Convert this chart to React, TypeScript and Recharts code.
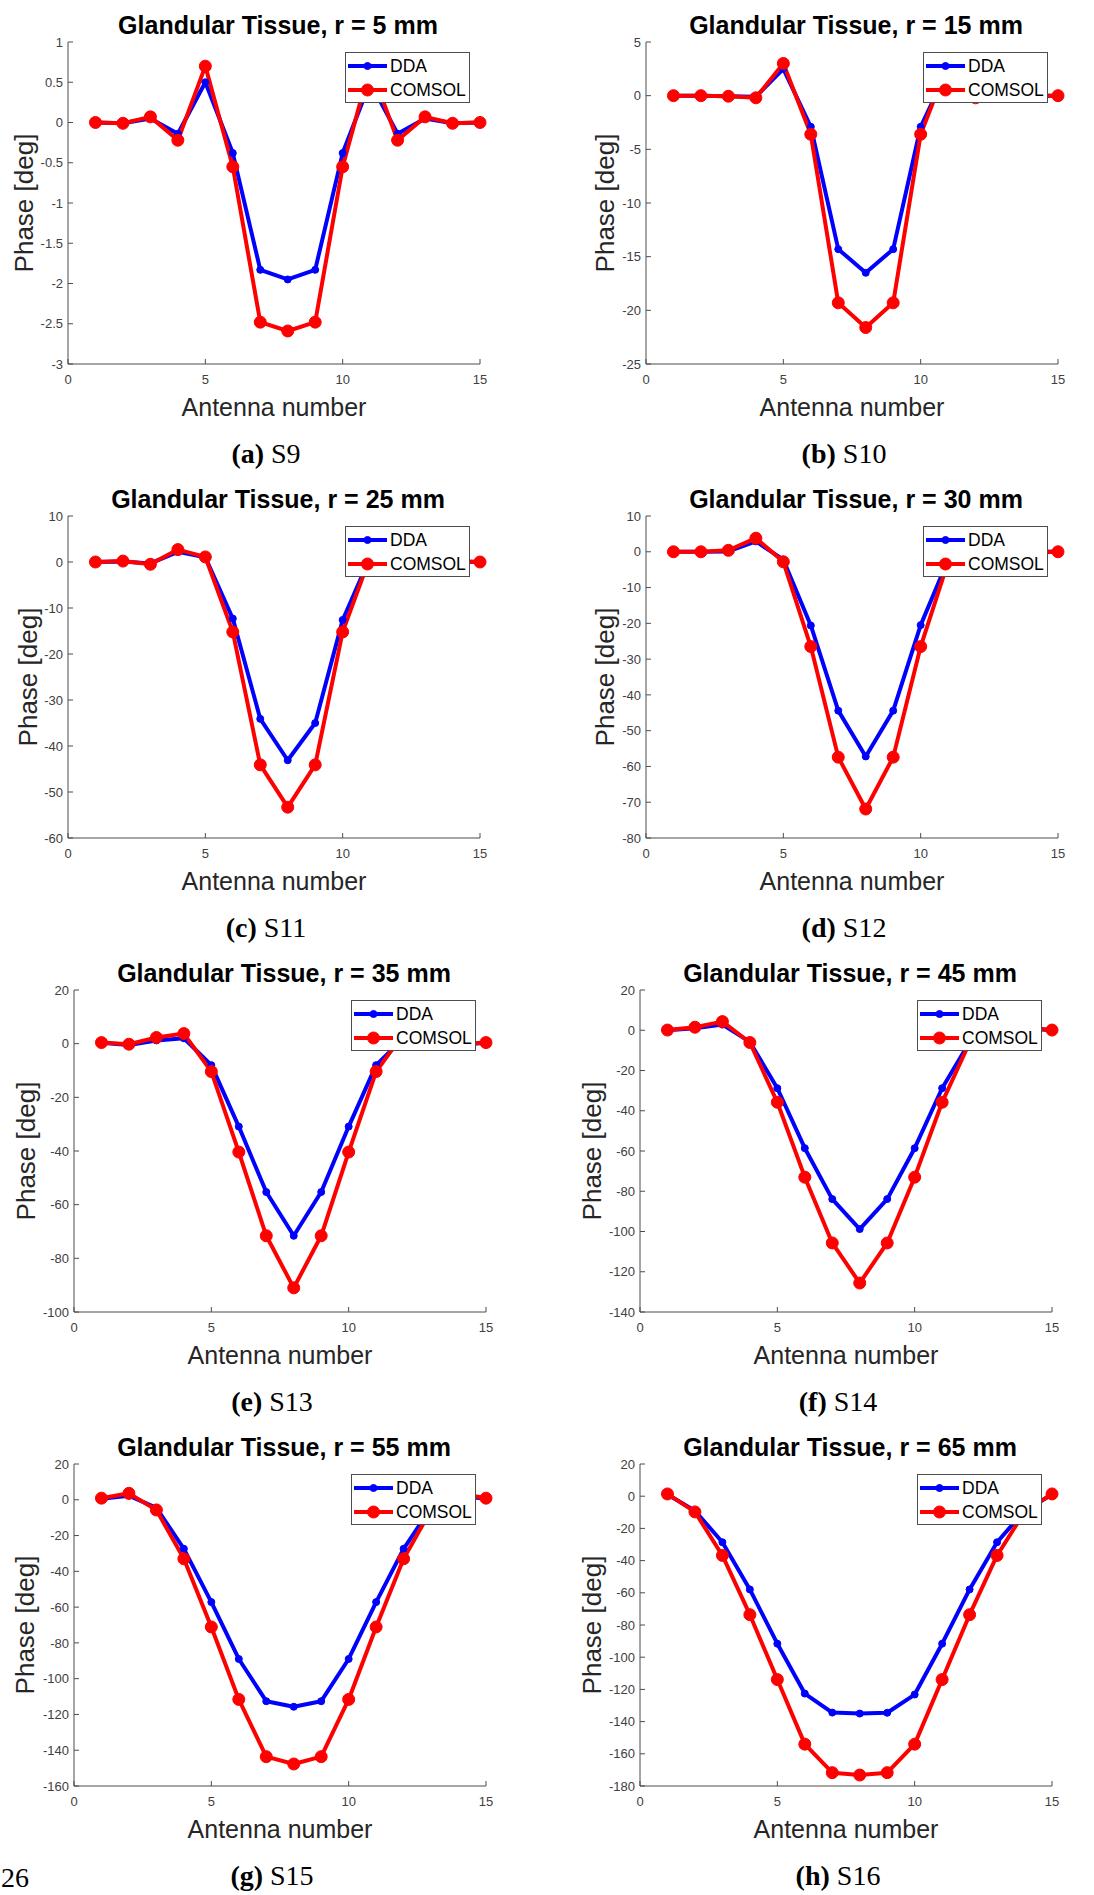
import React from 'react';
import { LineChart, Line, XAxis, YAxis, Legend } from 'recharts';

const antenna = [1, 2, 3, 4, 5, 6, 7, 8, 9, 10, 11, 12, 13, 14, 15];
const xTicks = [0, 5, 10, 15];
const seriesOrder = ['DDA', 'COMSOL'];

// (a) S9, r = 5 mm
const ddaS9 = [0, -0.01, 0.05, -0.14, 0.5, -0.38, -1.83, -1.95, -1.83, -0.38, 0.5, -0.14, 0.05, -0.01, 0];
const comsolS9 = [0, -0.01, 0.07, -0.22, 0.7, -0.55, -2.48, -2.59, -2.48, -0.55, 0.7, -0.22, 0.07, -0.01, 0];
const yTicksS9 = [-3, -2.5, -2, -1.5, -1, -0.5, 0, 0.5, 1];

// (b) S10, r = 15 mm
const ddaS10 = [0, 0, -0.05, -0.1, 2.5, -2.9, -14.3, -16.5, -14.3, -2.9, 2.5, -0.1, -0.05, 0, 0];
const comsolS10 = [0, 0, -0.05, -0.2, 3.0, -3.6, -19.3, -21.6, -19.3, -3.6, 3.0, -0.2, -0.05, 0, 0];
const yTicksS10 = [-25, -20, -15, -10, -5, 0, 5];

// (c) S11, r = 25 mm
const ddaS11 = [0, 0.1, -0.3, 2.2, 1.0, -12.3, -34.1, -43.1, -35.0, -12.6, 1.0, 2.2, -0.3, 0.1, 0];
const comsolS11 = [0, 0.2, -0.5, 2.7, 1.1, -15.2, -44.1, -53.3, -44.1, -15.2, 1.1, 2.7, -0.5, 0.2, 0];
const yTicksS11 = [-60, -50, -40, -30, -20, -10, 0, 10];

// (d) S12, r = 30 mm
const ddaS12 = [0, 0, 0.1, 2.9, -2.2, -20.6, -44.4, -57.2, -44.4, -20.5, -2.2, 2.9, 0.1, 0, 0];
const comsolS12 = [0, 0, 0.4, 3.8, -2.8, -26.5, -57.4, -71.9, -57.4, -26.5, -2.8, 3.8, 0.4, 0, 0];
const yTicksS12 = [-80, -70, -60, -50, -40, -30, -20, -10, 0, 10];

// (e) S13, r = 35 mm
const ddaS13 = [0.3, -0.5, 1.2, 2.0, -8.0, -30.9, -55.3, -71.6, -55.3, -30.9, -8.0, 2.0, 1.2, -0.5, 0.3];
const comsolS13 = [0.4, -0.2, 2.3, 3.75, -10.4, -40.4, -71.6, -91.0, -71.6, -40.4, -10.4, 3.75, 2.3, -0.2, 0.4];
const yTicksS13 = [-100, -80, -60, -40, -20, 0, 20];

// (f) S14, r = 45 mm
const ddaS14 = [0, 1.0, 2.8, -5.8, -28.8, -58.6, -83.9, -98.8, -83.9, -58.6, -28.8, -5.8, 2.8, 1.0, 0];
const comsolS14 = [0.1, 1.5, 4.3, -6.1, -35.8, -73.0, -105.7, -125.6, -105.7, -73.0, -35.8, -6.1, 4.3, 1.5, 0.1];
const yTicksS14 = [-140, -120, -100, -80, -60, -40, -20, 0, 20];

// (g) S15, r = 55 mm
const ddaS15 = [0.5, 2.3, -4.5, -27.4, -57.2, -89.0, -112.6, -115.7, -112.6, -89.0, -57.2, -27.4, -4.5, 2.3, 0.5];
const comsolS15 = [0.9, 3.6, -5.7, -33.0, -71.1, -111.6, -143.6, -147.7, -143.6, -111.6, -71.1, -33.0, -5.7, 3.6, 0.9];
const yTicksS15 = [-160, -140, -120, -100, -80, -60, -40, -20, 0, 20];

// (h) S16, r = 65 mm
const ddaS16 = [1.0, -9.0, -28.6, -57.9, -91.6, -122.6, -134.4, -135.0, -134.5, -123.2, -91.6, -57.9, -28.6, -9.0, 1.0];
const comsolS16 = [1.4, -9.75, -36.8, -73.6, -113.9, -154.0, -171.7, -173.2, -171.7, -154.0, -113.9, -73.6, -36.8, -9.75, 1.4];
const yTicksS16 = [-180, -160, -140, -120, -100, -80, -60, -40, -20, 0, 20];

const SANS = '"Liberation Sans", Arial, Helvetica, sans-serif';
const SERIF = '"Liberation Serif", "Times New Roman", serif';
const BLUE = '#0000ff';
const RED = '#ff0000';
const FRAME = '#4d4d4d';
const TICK = '#404040';

const PANEL_W = 547;
const PANEL_H = 474;
const PLOT_TOP = 42;
const PLOT_W = 412;
const PLOT_H = 322;
const Y_AXIS_W = 60;
const X_AXIS_H = 30;

interface PanelSpec {
  letter: string;
  sheet: string;
  radius: number;
  dda: number[];
  comsol: number[];
  yTicks: number[];
  col: number;
  row: number;
  plotLeft: number;
  yLabelX: number;
}

const panels: PanelSpec[] = [
  { letter: 'a', sheet: 'S9', radius: 5, dda: ddaS9, comsol: comsolS9, yTicks: yTicksS9, col: 0, row: 0, plotLeft: 68, yLabelX: 24 },
  { letter: 'b', sheet: 'S10', radius: 15, dda: ddaS10, comsol: comsolS10, yTicks: yTicksS10, col: 1, row: 0, plotLeft: 99, yLabelX: 58 },
  { letter: 'c', sheet: 'S11', radius: 25, dda: ddaS11, comsol: comsolS11, yTicks: yTicksS11, col: 0, row: 1, plotLeft: 68, yLabelX: 28 },
  { letter: 'd', sheet: 'S12', radius: 30, dda: ddaS12, comsol: comsolS12, yTicks: yTicksS12, col: 1, row: 1, plotLeft: 99, yLabelX: 58 },
  { letter: 'e', sheet: 'S13', radius: 35, dda: ddaS13, comsol: comsolS13, yTicks: yTicksS13, col: 0, row: 2, plotLeft: 74, yLabelX: 26 },
  { letter: 'f', sheet: 'S14', radius: 45, dda: ddaS14, comsol: comsolS14, yTicks: yTicksS14, col: 1, row: 2, plotLeft: 93, yLabelX: 45 },
  { letter: 'g', sheet: 'S15', radius: 55, dda: ddaS15, comsol: comsolS15, yTicks: yTicksS15, col: 0, row: 3, plotLeft: 74, yLabelX: 25 },
  { letter: 'h', sheet: 'S16', radius: 65, dda: ddaS16, comsol: comsolS16, yTicks: yTicksS16, col: 1, row: 3, plotLeft: 93, yLabelX: 45 },
];

const markerRadius: Record<string, number> = { DDA: 3.5, COMSOL: 6 };

// MATLAB-style legend box, drawn over the lines with a white background
const LegendBox = ({ payload }: any) => {
  const items = [...(payload || [])].sort(
    (p: any, q: any) => seriesOrder.indexOf(p.value) - seriesOrder.indexOf(q.value)
  );
  return (
    <div
      style={{
        position: 'relative',
        width: 125,
        height: 51,
        boxSizing: 'border-box',
        border: `1px solid ${FRAME}`,
        background: '#fff',
      }}
    >
      {items.map((entry: any, i: number) => (
        <div
          key={entry.value}
          style={{ position: 'absolute', left: 1, top: 2 + i * 24, height: 22, display: 'flex', alignItems: 'center' }}
        >
          <svg width={41} height={22}>
            <line x1={1} y1={11} x2={40} y2={11} stroke={entry.color} strokeWidth={4} />
            <circle cx={20.5} cy={11} r={markerRadius[entry.value] || 4} fill={entry.color} stroke={entry.color} />
          </svg>
          <span style={{ marginLeft: 2, fontSize: 17.5, fontFamily: SANS, color: '#000', lineHeight: '22px' }}>
            {entry.value}
          </span>
        </div>
      ))}
    </div>
  );
};

const centered: React.CSSProperties = {
  position: 'absolute',
  transform: 'translate(-50%, -50%)',
  whiteSpace: 'nowrap',
};

const Panel = ({ spec }: { spec: PanelSpec }) => {
  const data = antenna.map((a, i) => ({ antenna: a, DDA: spec.dda[i], COMSOL: spec.comsol[i] }));
  const yDomain = [spec.yTicks[0], spec.yTicks[spec.yTicks.length - 1]];
  const plotRight = spec.plotLeft + PLOT_W;
  const cx = spec.plotLeft + PLOT_W / 2;

  return (
    <div style={{ position: 'absolute', left: spec.col * PANEL_W, top: spec.row * PANEL_H, width: PANEL_W, height: PANEL_H }}>
      <LineChart
        width={PANEL_W}
        height={PANEL_H}
        data={data}
        margin={{
          top: PLOT_TOP,
          right: PANEL_W - plotRight,
          bottom: PANEL_H - PLOT_TOP - PLOT_H - X_AXIS_H,
          left: spec.plotLeft - Y_AXIS_W,
        }}
      >
        <XAxis
          dataKey="antenna"
          type="number"
          domain={[0, 15]}
          ticks={xTicks}
          height={X_AXIS_H}
          tickSize={-5}
          tickMargin={16}
          stroke={FRAME}
          tick={{ fill: TICK, fontSize: 13, fontFamily: SANS }}
        />
        <XAxis
          xAxisId="top"
          orientation="top"
          type="number"
          domain={[0, 15]}
          ticks={xTicks}
          height={0}
          tickSize={-5}
          tick={false}
          stroke={FRAME}
          allowDataOverflow
        />
        <YAxis
          type="number"
          domain={yDomain}
          ticks={spec.yTicks}
          width={Y_AXIS_W}
          tickSize={-5}
          tickMargin={10}
          stroke={FRAME}
          tick={{ fill: TICK, fontSize: 13, fontFamily: SANS }}
        />
        <YAxis
          yAxisId="right"
          orientation="right"
          type="number"
          domain={yDomain}
          ticks={spec.yTicks}
          width={0}
          tickSize={-5}
          tick={false}
          stroke={FRAME}
          allowDataOverflow
        />
        <Legend
          layout="horizontal"
          align="center"
          verticalAlign="middle"
          content={<LegendBox />}
          wrapperStyle={{ left: spec.plotLeft + 277, top: 52, width: 125, height: 51 }}
        />
        <Line
          type="linear"
          dataKey="DDA"
          name="DDA"
          stroke={BLUE}
          strokeWidth={4}
          strokeLinejoin="round"
          dot={{ r: 3.5, fill: BLUE, stroke: BLUE, strokeWidth: 1 }}
          activeDot={false}
          isAnimationActive={false}
        />
        <Line
          type="linear"
          dataKey="COMSOL"
          name="COMSOL"
          stroke={RED}
          strokeWidth={4}
          strokeLinejoin="round"
          dot={{ r: 6, fill: RED, stroke: RED, strokeWidth: 1 }}
          activeDot={false}
          isAnimationActive={false}
        />
      </LineChart>

      <div style={{ ...centered, left: cx + 4, top: 25, fontFamily: SANS, fontWeight: 'bold', fontSize: 25, color: '#000' }}>
        Glandular Tissue, r = {spec.radius} mm
      </div>
      <div style={{ ...centered, left: cx, top: 407, fontFamily: SANS, fontSize: 25, color: '#262626' }}>
        Antenna number
      </div>
      <div
        style={{
          ...centered,
          left: spec.yLabelX,
          top: PLOT_TOP + PLOT_H / 2,
          transform: 'translate(-50%, -50%) rotate(-90deg)',
          fontFamily: SANS,
          fontSize: 26,
          color: '#262626',
        }}
      >
        Phase [deg]
      </div>
      <div style={{ ...centered, left: cx - 8, top: 454, fontFamily: SERIF, fontSize: 28, color: '#000' }}>
        <span style={{ fontWeight: 'bold' }}>({spec.letter})</span> {spec.sheet}
      </div>
    </div>
  );
};

export default function App() {
  return (
    <div style={{ position: 'absolute', left: 0, top: 0, width: 1094, height: 1895, background: '#fff', overflow: 'hidden' }}>
      {panels.map((p) => (
        <Panel key={p.letter} spec={p} />
      ))}
      <div style={{ position: 'absolute', left: 1, top: 1878, transform: 'translateY(-50%)', fontFamily: SERIF, fontSize: 28, color: '#000' }}>
        26
      </div>
    </div>
  );
}
